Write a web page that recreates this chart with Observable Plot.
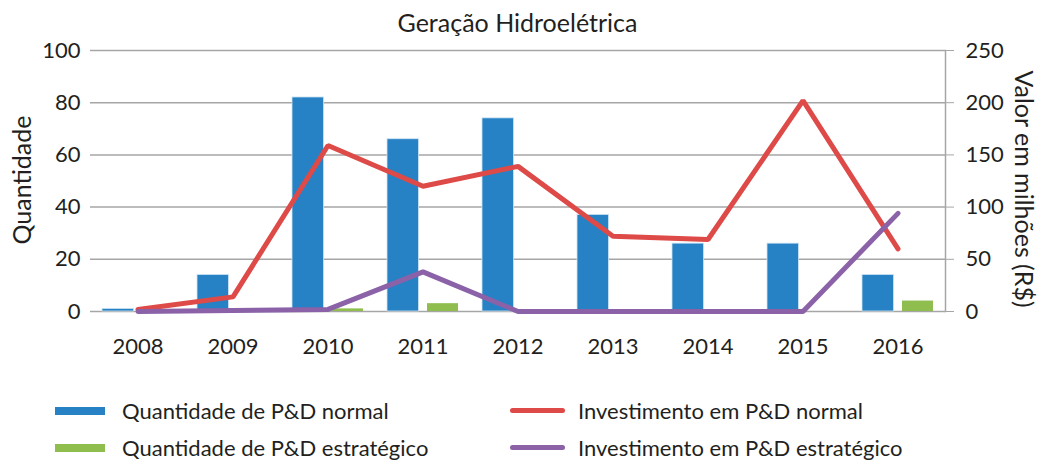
<!DOCTYPE html>
<html><head><meta charset="utf-8">
<script src="https://cdn.jsdelivr.net/npm/d3@7"></script>
<script src="https://cdn.jsdelivr.net/npm/@observablehq/plot@0.6"></script>
<style>
body{margin:0;background:#fff;font-family:Lato, "Open Sans", sans-serif;color:#231f20;}
#wrap{width:1042px;height:460px;position:relative;overflow:hidden}
#title{height:36px;box-sizing:border-box;padding:7px 97px 0 90px;text-align:center;font-size:25px;line-height:30px;white-space:nowrap;}
#legend{padding-top:21px;}
.row{height:37px;display:flex;align-items:center;font-size:22px;line-height:26px;}
.item{display:flex;align-items:center;}
.sw{display:inline-block;}
</style></head><body>
<div id="wrap">
<div id="title">Geração Hidroelétrica</div>
<div id="chart"></div>
<div id="legend"></div>
</div>
<script>
const years = ["2008","2009","2010","2011","2012","2013","2014","2015","2016"];
const qtdNormal = [1,14,82,66,74,37,26,26,14];
const qtdEstrategico = [0,0,1,3,0,0,0,0,4];
const invNormal = [2,14,159,120,139,72,69,202,60];
const invEstrategico = [0,1,2,38,0,0,0,0,94];
const leftTicks = [0,20,40,60,80,100];
const rightTicks = [0,50,100,150,200,250];
const seriesNames = ["Quantidade de P&D normal","Quantidade de P&D estratégico","Investimento em P&D normal","Investimento em P&D estratégico"];
const colors = ["#2682c4","#8fbe4f","#de4a47","#8b62a8"];

const ratio = 100/250;
const rows = years.map((y,i)=>({year:y, qn:qtdNormal[i], qe:qtdEstrategico[i], inv:invNormal[i]*ratio, ive:invEstrategico[i]*ratio}));
const grid = "#a6a6a6";

const chart = Plot.plot({
  width:1042, height:335,
  marginLeft:90, marginRight:97, marginTop:14, marginBottom:60,
  style:{fontFamily:"Lato, 'Open Sans', sans-serif", fontSize:"22px", color:"#231f20", background:"#fff", overflow:"visible"},
  x:{type:"band", domain:years, padding:0},
  y:{domain:[0,100]},
  marks:[
    Plot.gridY(leftTicks, {stroke:grid, strokeOpacity:1, strokeWidth:1.5}),
    Plot.frame({anchor:"right", stroke:grid, strokeWidth:1.5}),
    Plot.barY(rows, {x:"year", y:"qn", fill:colors[0], stroke:"#cfe3f3", strokeWidth:0.8, insetLeft:12, insetRight:51.5}),
    Plot.barY(rows, {x:"year", y:"qe", fill:colors[1], insetLeft:52, insetRight:12}),
    Plot.lineY(rows, {x:"year", y:"inv", stroke:colors[2], strokeWidth:5, strokeLinejoin:"miter"}),
    Plot.lineY(rows, {x:"year", y:"ive", stroke:colors[3], strokeWidth:5, strokeLinejoin:"miter"}),
    Plot.axisY(leftTicks, {anchor:"left", tickSize:0, tickPadding:10, label:null}),
    Plot.axisY(rightTicks.map(v=>v*ratio), {anchor:"right", tickSize:8, tickPadding:12, stroke:grid, fill:"#231f20", tickFormat:d=>String(Math.round(d/ratio)), label:null}),
    Plot.axisX({tickSize:0, tickPadding:27, label:null}),
    Plot.text(["Quantidade"], {text:d=>d, frameAnchor:"left", textAnchor:"middle", dx:-68, dy:-1, rotate:-90, fontSize:25, fill:"#231f20"}),
    Plot.text(["Valor em milhões (R$)"], {text:d=>d, frameAnchor:"right", textAnchor:"middle", dx:77, dy:8, rotate:90, fontSize:25, fill:"#231f20"})
  ]
});
document.getElementById("chart").appendChild(chart);

const legend = document.getElementById("legend");
[[0,2],[1,3]].forEach(pair=>{
  const row = document.createElement("div"); row.className="row";
  const a = document.createElement("div"); a.className="item";
  a.style.marginLeft="55px"; a.style.width="455px";
  a.innerHTML = `<span class="sw" style="width:50px;height:8px;background:${colors[pair[0]]};margin-right:17px"></span><span></span>`;
  a.lastChild.textContent = seriesNames[pair[0]];
  const b = document.createElement("div"); b.className="item";
  b.innerHTML = `<span class="sw" style="width:55px;height:5px;border-radius:3px;background:${colors[pair[1]]};margin-right:13px"></span><span></span>`;
  b.lastChild.textContent = seriesNames[pair[1]];
  row.appendChild(a); row.appendChild(b); legend.appendChild(row);
});
</script>
</body></html>
